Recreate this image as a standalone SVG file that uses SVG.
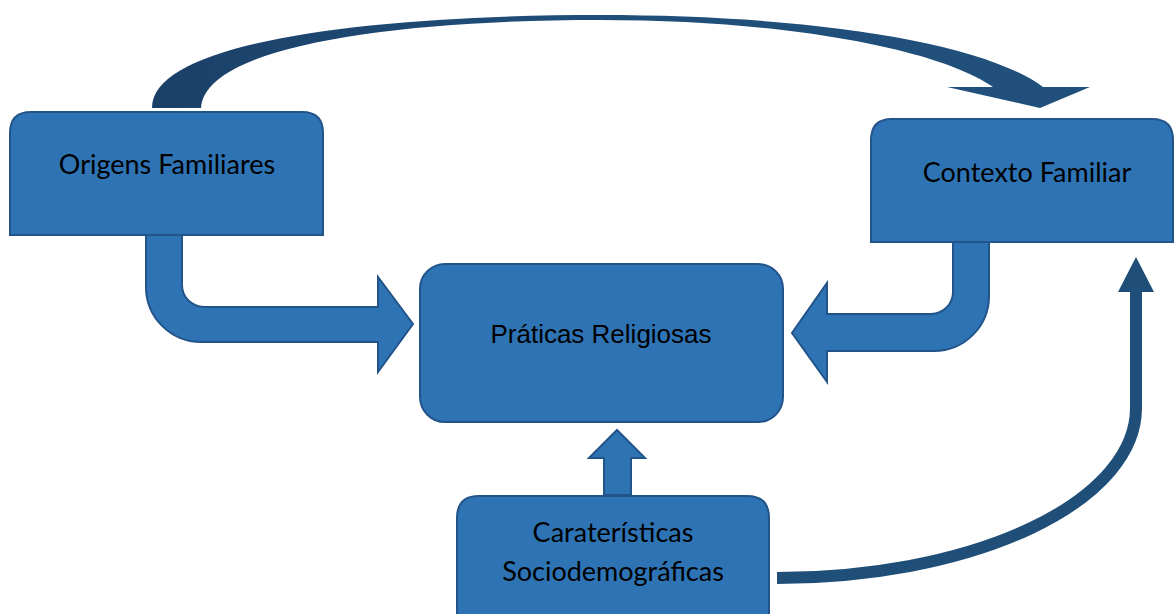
<svg xmlns="http://www.w3.org/2000/svg" width="1174" height="614" viewBox="0 0 1174 614">
<style>
.box{fill:#2E74B5;stroke:#22548A;stroke-width:2}
.blk{fill:#2E74B5;stroke:#22548A;stroke-width:2;stroke-linejoin:miter}
.lbl{font-family:Lato,"Liberation Sans",sans-serif;font-size:27px;fill:#000;text-anchor:middle}
.lbl2{font-family:"Liberation Sans",Arial,sans-serif;font-size:26px;fill:#000;text-anchor:middle}
.dark{fill:#1F4E79}
</style>
<defs>
<linearGradient id="arcg" x1="150" y1="0" x2="1090" y2="0" gradientUnits="userSpaceOnUse">
<stop offset="0" stop-color="#1B4068"/>
<stop offset="0.45" stop-color="#1F4E79"/>
<stop offset="1" stop-color="#22507C"/>
</linearGradient>
</defs>
<g id="connectors">
<path id="arc-top" fill="url(#arcg)" d="M152 108 C152 40 380 15 600 15 C800 15 980 40 1043 87 L1090 87 L1040 108 L947 87 L993 87 C940 50 790 20 600 20 C400 20 205 45 201 108 Z"/>
<path id="bend-left" class="blk" d="M146 235 H182 V285 A22 22 0 0 0 204 307 H378 V277 L413 324 L378 372 V342 H201 A55 55 0 0 1 146 287 Z"/>
<path id="bend-right" class="blk" d="M989 242 H953 V292 A22 22 0 0 1 931 314 H827 V283 L792 333 L827 382 V351 H934 A55 55 0 0 0 989 296 Z"/>
<path id="up-small" class="blk" d="M604 495 V458 H589 L617 430 L645 458 H631 V495 Z"/>
<path id="curve-right" fill="none" stroke="#1F4E79" stroke-width="12" d="M777 578 A359 170 0 0 0 1136 408 V290"/>
<polygon class="dark" points="1118,292 1136,257 1154,292"/>
</g>
<g id="node-origens">
<path class="box" d="M10 235 V133 Q10 112 31 112 H302 Q323 112 323 133 V235 Z"/>
<text class="lbl" x="167" y="174">Origens Familiares</text>
</g>
<g id="node-contexto">
<path class="box" d="M871 242 V140 Q871 119 892 119 H1152 Q1173 119 1173 140 V242 Z"/>
<text class="lbl" x="1027" y="182">Contexto Familiar</text>
</g>
<g id="node-praticas">
<rect class="box" x="420" y="264" width="363" height="158" rx="25"/>
<text class="lbl2" x="601" y="343">Práticas Religiosas</text>
</g>
<g id="node-caracteristicas">
<path class="box" d="M457 620 V518 Q457 496 479 496 H747 Q769 496 769 518 V620 Z"/>
<text class="lbl" x="613" y="542">Caraterísticas</text>
<text class="lbl" x="613" y="581">Sociodemográficas</text>
</g>
</svg>
